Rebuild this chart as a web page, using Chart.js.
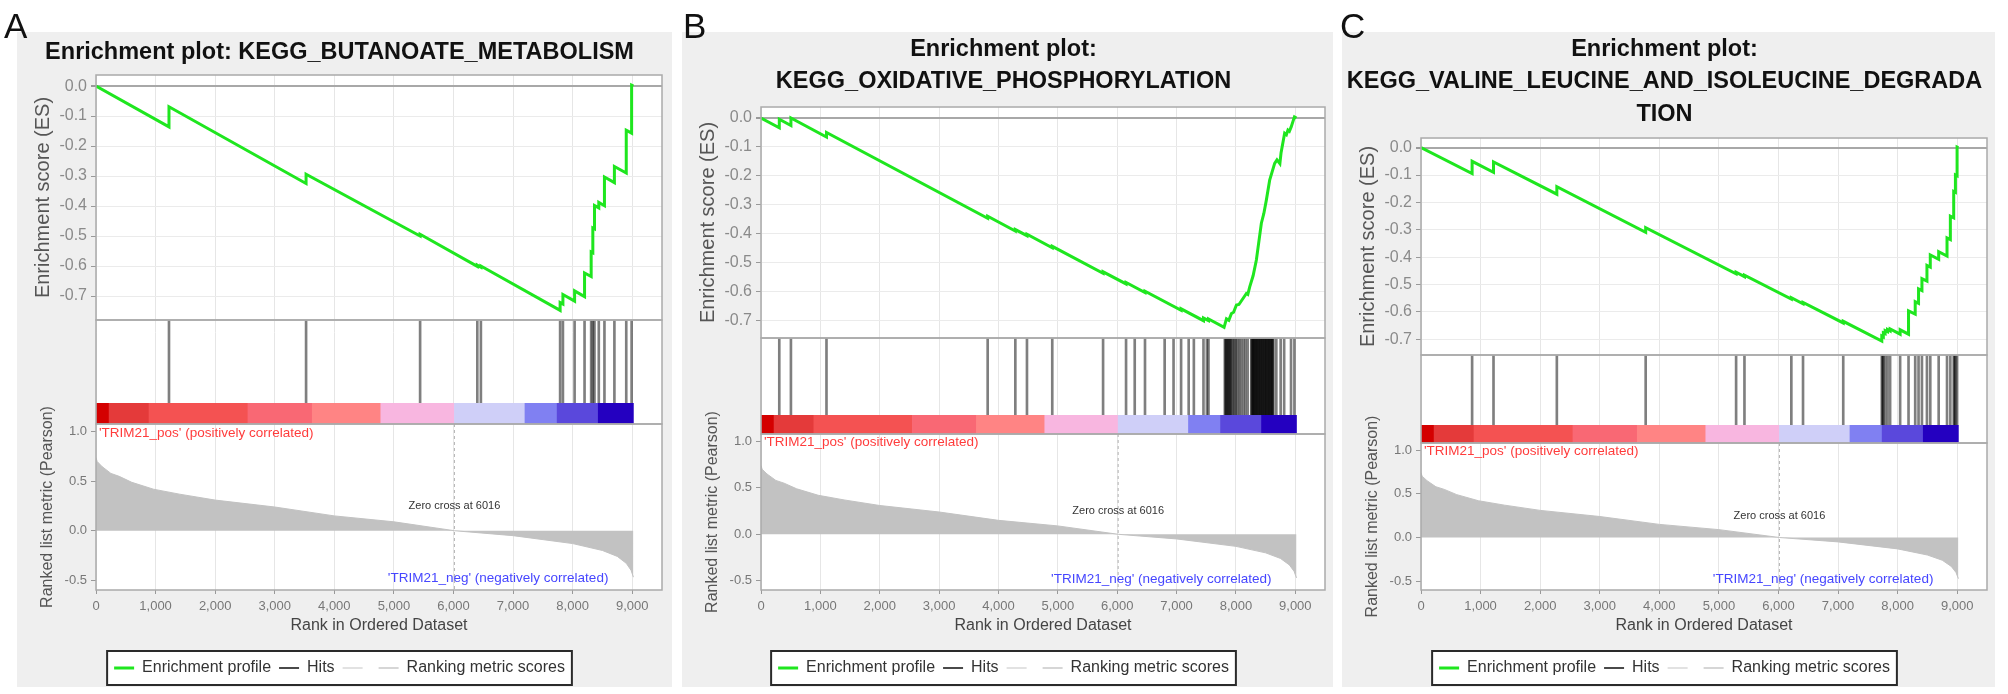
<!DOCTYPE html>
<html lang="en">
<head>
<meta charset="UTF-8">
<title>GSEA enrichment plots</title>
<script src="https://cdn.jsdelivr.net/npm/chart.js@4"></script>
<style>
html, body { margin: 0; padding: 0; background: #fff; }
body { position: relative; width: 2008px; height: 694px; overflow: hidden; font-family: "Liberation Sans", Arial, sans-serif; }
.letter { position: absolute; top: 8px; font-size: 35px; line-height: 35px; color: #111; z-index: 2; }
.panel { position: absolute; top: 32px; height: 655px; background: #efefef; z-index: 1; }
.panel canvas { display: block; }
</style>
</head>
<body>
<div class="letter" style="left:4px">A</div>
<div class="letter" style="left:683px">B</div>
<div class="letter" style="left:1340px">C</div>
<div class="panel" style="left:17px;width:655px"><canvas id="plotA" width="655" height="655"></canvas></div>
<div class="panel" style="left:682px;width:651px"><canvas id="plotB" width="651" height="655"></canvas></div>
<div class="panel" style="left:1342px;width:653px"><canvas id="plotC" width="653" height="655"></canvas></div>
<script>
// ranked list metric, same ordered dataset in all three plots
const rankPos    = [0, 20, 100, 250, 390, 600, 965, 1400, 2000, 3000, 4000, 5000, 6016, 7000, 8000, 8500, 8750, 8900, 8980, 9020];
const rankMetric = [0.74, 0.70, 0.65, 0.58, 0.55, 0.49, 0.42, 0.37, 0.31, 0.24, 0.15, 0.09, 0.0, -0.05, -0.13, -0.20, -0.26, -0.33, -0.40, -0.47];
const zeroCross = 6016;
const xMax = 9500;
const xTicks = [0, 1000, 2000, 3000, 4000, 5000, 6000, 7000, 8000, 9000];
const posLabel = "'TRIM21_pos' (positively correlated)";
const negLabel = "'TRIM21_neg' (negatively correlated)";

// heat bar blocks along the ranked list
const barStart  = [0, 220, 890, 2550, 3630, 4780, 6016, 7200, 7740, 8430];
const barEnd    = [220, 890, 2550, 3630, 4780, 6016, 7200, 7740, 8430, 9020];
const barColors = ['#d40000', '#e43a3a', '#f45252', '#f96874', '#ff8484', '#f8b6e0', '#cfcff8', '#8080f2', '#5a48dc', '#2400c0'];

// legend
const legendText  = ['Enrichment profile', 'Hits', '', 'Ranking metric scores'];
const legendColor = ['#1fe61f', '#4a4a4a', '#e2e2e2', '#d6d6d6'];
const legendWidth = [3, 2, 2, 2];

// A
const titleA = ['Enrichment plot: KEGG_BUTANOATE_METABOLISM'];
const esRankA  = [0, 1225, 1225, 3526, 3526, 5440, 5440, 6400, 6400, 6460, 6460, 7790, 7790, 7837, 7837, 8033, 8033, 8200, 8200, 8311, 8311, 8339, 8339, 8367, 8367, 8439, 8439, 8534, 8534, 8701, 8701, 8900, 8900, 8990, 8990, 9020];
const esScoreA = [0, -0.136, -0.069, -0.325, -0.294, -0.500, -0.494, -0.601, -0.597, -0.604, -0.600, -0.748, -0.722, -0.727, -0.695, -0.717, -0.683, -0.702, -0.623, -0.635, -0.553, -0.556, -0.473, -0.476, -0.398, -0.406, -0.388, -0.399, -0.303, -0.322, -0.268, -0.290, -0.147, -0.157, 0.003, 0];
const hitsA = [1225, 3526, 5440, 6400, 6460, 7790, 7837, 8033, 8200, 8311, 8339, 8367, 8439, 8534, 8701, 8900, 8990];

// B
const titleB = ['Enrichment plot:', 'KEGG_OXIDATIVE_PHOSPHORYLATION'];
const esRankB  = [0, 308, 308, 504, 504, 1103, 1103, 3818, 3818, 4284, 4284, 4480, 4480, 4906, 4906, 5762, 5762, 6149, 6149, 6468, 6468, 7076, 7076, 7453, 7453, 7538, 7538, 7800, 7840, 7880, 7924, 7960, 8008, 8050, 8176, 8200, 8232, 8290, 8344, 8428, 8470, 8512, 8568, 8652, 8691, 8740, 8760, 8820, 8850, 8876, 8900, 8932, 8985, 9020];
const esScoreB = [0, -0.034, -0.004, -0.026, 0.0, -0.066, -0.050, -0.347, -0.340, -0.391, -0.386, -0.407, -0.402, -0.449, -0.444, -0.537, -0.532, -0.574, -0.569, -0.604, -0.599, -0.665, -0.660, -0.701, -0.692, -0.701, -0.695, -0.724, -0.695, -0.700, -0.676, -0.672, -0.647, -0.645, -0.607, -0.610, -0.584, -0.545, -0.491, -0.364, -0.330, -0.284, -0.215, -0.157, -0.145, -0.158, -0.120, -0.053, -0.058, -0.042, -0.046, -0.030, 0.004, 0];
const hitsB = [308, 504, 1103, 3818, 4284, 4480, 4906, 5762, 6149, 6295, 6468, 6799, 6949, 7076, 7204, 7291, 7453, 7510, 7538,
  7812, 7824, 7839, 7851, 7866, 7880, 7893, 7909, 7924, 7946, 7972, 7994, 8021, 8052, 8084, 8122, 8158, 8197,
  8258, 8266, 8279, 8290, 8297, 8310, 8318, 8333, 8341, 8355, 8362, 8377, 8389, 8398, 8412, 8420, 8436, 8447, 8455,
  8470, 8483, 8491, 8506, 8514, 8529, 8540, 8552, 8561, 8575, 8588, 8597, 8610, 8618, 8632, 8680, 8753, 8812, 8928, 8985];

// C
const titleC = ['Enrichment plot:', 'KEGG_VALINE_LEUCINE_AND_ISOLEUCINE_DEGRADA', 'TION'];
const esRankC  = [0, 858, 858, 1217, 1217, 2280, 2280, 3771, 3771, 5289, 5289, 5429, 5429, 6216, 6216, 6412, 6412, 7087, 7087, 7734, 7734, 7760, 7760, 7790, 7790, 7830, 7830, 7874, 7874, 8042, 8042, 8183, 8183, 8295, 8295, 8351, 8351, 8408, 8408, 8492, 8492, 8548, 8548, 8689, 8689, 8829, 8829, 8885, 8885, 8941, 8941, 8970, 8970, 8998, 8998, 9020];
const esScoreC = [0, -0.095, -0.050, -0.090, -0.052, -0.170, -0.143, -0.309, -0.292, -0.461, -0.455, -0.471, -0.466, -0.553, -0.548, -0.570, -0.565, -0.640, -0.634, -0.706, -0.688, -0.691, -0.676, -0.679, -0.668, -0.672, -0.664, -0.669, -0.662, -0.681, -0.665, -0.681, -0.596, -0.608, -0.562, -0.568, -0.516, -0.522, -0.478, -0.487, -0.430, -0.436, -0.392, -0.408, -0.380, -0.396, -0.330, -0.336, -0.250, -0.256, -0.160, -0.163, -0.100, -0.103, 0.002, 0];
const hitsC = [858, 1217, 2280, 3771, 5289, 5429, 6216, 6412, 7087, 7734, 7748, 7760, 7790, 7830, 7874, 8042, 8183, 8295, 8351, 8408, 8492, 8548, 8689, 8829, 8885, 8941, 8956, 8970, 8998];

// panel geometry (pixels inside each grey box)
const AXIS_W = 79;
const layoutA = { titlePad: [5, 6], padRight: 10, esRange: [-0.78, 0.037], heights: [245, 83, 21, 166] };
const layoutB = { titlePad: [2, 9], padRight: 8, esRange: [-0.761, 0.038], heights: [231, 77, 19, 156] };
const layoutC = { titlePad: [2, 8], padRight: 8, esRange: [-0.757, 0.035], heights: [217, 70, 18, 147] };

Chart.defaults.font.family = '"Liberation Sans", Arial, Helvetica, sans-serif';

const gseaDecor = {
  id: 'gseaDecor',
  beforeDraw(chart) {
    const ctx = chart.ctx, a = chart.chartArea;
    ctx.save();
    ctx.fillStyle = '#fff';
    ctx.fillRect(a.left, a.top, a.right - a.left, a.bottom - a.top);
    const lg = chart.legend;
    if (lg && lg.legendHitBoxes && lg.legendHitBoxes.length) {
      const hb = lg.legendHitBoxes;
      const l = Math.min(...hb.map(h => h.left)) - 7;
      const r = Math.max(...hb.map(h => h.left + h.width)) + 7;
      const cy = hb[0].top + hb[0].height / 2;
      ctx.fillRect(l, cy - 17, r - l, 34);
      ctx.strokeStyle = '#2a2a2a';
      ctx.lineWidth = 2;
      ctx.strokeRect(l, cy - 17, r - l, 34);
    }
    ctx.restore();
  },
  afterDatasetsDraw(chart) {
    const ctx = chart.ctx, a = chart.chartArea, s = chart.scales;
    const w = a.right - a.left;
    ctx.save();
    // zero cross marker
    const zx = s.x.getPixelForValue(zeroCross);
    ctx.strokeStyle = '#b4b4b4';
    ctx.lineWidth = 1;
    ctx.setLineDash([3, 3]);
    ctx.beginPath();
    ctx.moveTo(zx, s.yRank.top);
    ctx.lineTo(zx, s.yRank.bottom);
    ctx.stroke();
    ctx.setLineDash([]);
    // frames round the three plots
    ctx.strokeStyle = '#aaaaaa';
    ctx.lineWidth = 1.5;
    ctx.strokeRect(a.left, s.yES.top, w, s.yES.bottom - s.yES.top);
    ctx.strokeRect(a.left, s.yHits.top, w, s.yBar.bottom - s.yHits.top);
    ctx.strokeRect(a.left, s.yRank.top, w, s.yRank.bottom - s.yRank.top);
    // labels in the ranked list plot
    ctx.textBaseline = 'middle';
    ctx.font = '13.5px "Liberation Sans", Arial, sans-serif';
    ctx.fillStyle = '#ff3c3c';
    ctx.textAlign = 'left';
    ctx.fillText(posLabel, a.left + 3, s.yRank.getPixelForValue(0.99));
    ctx.fillStyle = '#4646ff';
    ctx.textAlign = 'right';
    ctx.fillText(negLabel, s.x.getPixelForValue(8600), s.yRank.getPixelForValue(-0.48));
    ctx.font = '11px "Liberation Sans", Arial, sans-serif';
    ctx.fillStyle = '#333';
    ctx.textAlign = 'center';
    ctx.fillText('Zero cross at ' + zeroCross, zx, s.yRank.getPixelForValue(0.25));
    ctx.restore();
  }
};

function fixWidth(scale) { scale.width = AXIS_W; }

function makePanel(id, title, esRank, esScore, hits, lay) {
  return new Chart(document.getElementById(id), {
    type: 'line',
    data: {
      datasets: [
        {
          label: 'Enrichment profile', type: 'line', xAxisID: 'x', yAxisID: 'yES',
          data: esRank.map((r, i) => ({ x: r, y: esScore[i] })),
          borderColor: '#1fe61f', borderWidth: 3, pointRadius: 0, tension: 0, fill: false
        },
        {
          label: 'Hits', type: 'bar', xAxisID: 'x', yAxisID: 'yHits',
          data: hits.map(h => ({ x: h, y: [0, 1] })),
          backgroundColor: 'rgba(0,0,0,0.5)', barThickness: 2, grouped: false, borderWidth: 0
        },
        {
          label: 'Heat bar', type: 'bar', indexAxis: 'y', xAxisID: 'x', yAxisID: 'yBar',
          data: barStart.map((b, i) => ({ x: [b, barEnd[i]], y: 'c' })),
          backgroundColor: barColors, grouped: false, categoryPercentage: 1, barPercentage: 1, borderWidth: 0
        },
        {
          label: 'Ranking metric scores', type: 'line', xAxisID: 'x', yAxisID: 'yRank',
          data: rankPos.map((r, i) => ({ x: r, y: rankMetric[i] })),
          borderColor: '#c2c2c2', backgroundColor: '#c2c2c2', borderWidth: 1, pointRadius: 0, tension: 0, fill: 'origin'
        }
      ]
    },
    options: {
      responsive: false,
      animation: false,
      events: [],
      layout: { padding: { left: 0, right: lay.padRight, top: 0, bottom: 1 } },
      scales: {
        x: {
          type: 'linear', position: 'bottom', min: 0, max: xMax, offset: false,
          afterBuildTicks: sc => { sc.ticks = xTicks.map(v => ({ value: v })); },
          ticks: { autoSkip: false, maxRotation: 0, color: '#777', font: { size: 13 }, padding: 5,
                   callback: v => v.toLocaleString('en-US') },
          grid: { color: '#e6e6e6', tickColor: '#999', tickLength: 4, offset: false },
          border: { display: false },
          title: { display: true, text: 'Rank in Ordered Dataset', color: '#444', font: { size: 16 }, padding: { top: 4, bottom: 17 } },
          afterFit: sc => { sc.height = 62; }
        },
        yES: {
          type: 'linear', position: 'left', stack: 'gsea', stackWeight: lay.heights[0], weight: 4,
          min: lay.esRange[0], max: lay.esRange[1],
          ticks: { stepSize: 0.1, includeBounds: false, color: '#8a8a8a', font: { size: 16 }, padding: 4, callback: v => v.toFixed(1) },
          grid: { color: c => (c.tick && c.tick.value === 0 ? '#a8a8a8' : '#ebebeb'),
                  lineWidth: c => (c.tick && c.tick.value === 0 ? 2 : 1), tickColor: '#999', tickLength: 5 },
          border: { display: false },
          title: { display: true, text: 'Enrichment score (ES)', color: '#555', font: { size: 20 }, padding: { top: 14, bottom: 0 } },
          afterFit: fixWidth
        },
        yHits: {
          type: 'linear', position: 'left', stack: 'gsea', stackWeight: lay.heights[1], weight: 3,
          min: 0, max: 1,
          ticks: { display: false }, grid: { display: false }, border: { display: false },
          afterFit: fixWidth
        },
        yBar: {
          type: 'category', labels: ['c'], offset: true, position: 'left', stack: 'gsea', stackWeight: lay.heights[2], weight: 2,
          ticks: { display: false }, grid: { display: false }, border: { display: false },
          afterFit: fixWidth
        },
        yRank: {
          type: 'linear', position: 'left', stack: 'gsea', stackWeight: lay.heights[3], weight: 1,
          min: -0.6, max: 1.08,
          ticks: { stepSize: 0.5, includeBounds: false, color: '#777', font: { size: 13 }, padding: 4, callback: v => v.toFixed(1) },
          grid: { display: true, drawOnChartArea: false, tickColor: '#999', tickLength: 5 },
          border: { display: false },
          title: { display: true, text: 'Ranked list metric (Pearson)', color: '#555', font: { size: 16 }, padding: { top: 21, bottom: 0 } },
          afterFit: fixWidth
        }
      },
      plugins: {
        title: {
          display: true, text: title, color: '#111',
          font: { size: 23.5, weight: 'bold', lineHeight: 1.362 },
          padding: { top: lay.titlePad[0], bottom: lay.titlePad[1] }
        },
        legend: {
          display: true, position: 'bottom', onClick: () => {},
          labels: {
            font: { size: 16 }, color: '#333', usePointStyle: true, pointStyleWidth: 20, padding: 8,
            generateLabels: () => legendText.map((t, i) => ({
              text: t, fillStyle: legendColor[i], strokeStyle: legendColor[i], lineWidth: legendWidth[i],
              pointStyle: 'line', hidden: false, fontColor: '#333'
            }))
          }
        },
        tooltip: { enabled: false }
      }
    },
    plugins: [gseaDecor]
  });
}

makePanel('plotA', titleA, esRankA, esScoreA, hitsA, layoutA);
makePanel('plotB', titleB, esRankB, esScoreB, hitsB, layoutB);
makePanel('plotC', titleC, esRankC, esScoreC, hitsC, layoutC);
</script>
</body>
</html>
